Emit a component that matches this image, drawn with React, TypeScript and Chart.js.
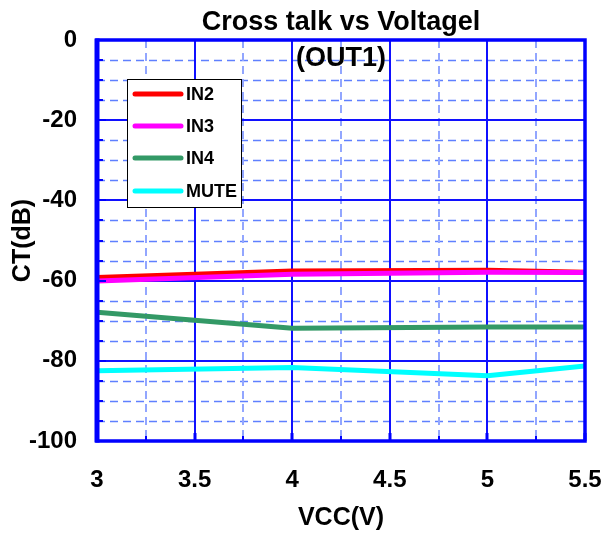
import React, { useEffect, useRef } from 'react';
import { Chart, registerables } from 'chart.js';

Chart.register(...registerables);

const vcc = [3, 4, 5, 5.5];
const in2 = [-59.2, -57.6, -57.4, -57.9];
const in3 = [-60.1, -58.4, -57.9, -58.0];
const in4 = [-67.9, -71.9, -71.6, -71.6];
const mute = [-82.5, -81.7, -83.7, -81.3];
const seriesNames = ['IN2', 'IN3', 'IN4', 'MUTE'];
const seriesColors = ['#ff0000', '#ff00ff', '#339966', '#00ffff'];
const titleLines = ['Cross talk vs Voltagel', '(OUT1)'];
const xLabel = 'VCC(V)';
const yLabel = 'CT(dB)';
const xMin = 3, xMax = 5.5, xMajor = 0.5, xMinor = 0.25;
const yMin = -100, yMax = 0, yMajor = 20, yMinor = 5;

const FONT = "'Liberation Sans', Arial, sans-serif";

const decorPlugin = {
  id: 'decor',
  beforeDatasetsDraw(chart: any) {
    const { ctx, chartArea: a, scales } = chart;
    const xs = scales.x, ys = scales.y;
    ctx.save();
    // minor dashed grid
    ctx.setLineDash([8, 5]);
    ctx.lineWidth = 1.5;
    ctx.strokeStyle = '#5f80ff';
    for (let v = yMin + yMinor; v < yMax; v += yMinor) {
      if (Math.abs(v % yMajor) < 1e-9) continue;
      const y = Math.round(ys.getPixelForValue(v)) + 0.5;
      ctx.beginPath(); ctx.moveTo(a.left, y); ctx.lineTo(a.right, y); ctx.stroke();
    }
    ctx.lineWidth = 2;
    ctx.strokeStyle = '#92a6ff';
    for (let v = xMin + xMinor; v < xMax - 1e-9; v += xMinor) {
      if (Math.abs((v / xMajor) - Math.round(v / xMajor)) < 1e-9) continue;
      const x = Math.round(xs.getPixelForValue(v));
      ctx.beginPath(); ctx.moveTo(x, a.top); ctx.lineTo(x, a.bottom); ctx.stroke();
    }
    // major solid grid
    ctx.setLineDash([]);
    ctx.lineWidth = 2;
    ctx.strokeStyle = '#1010ff';
    for (let v = yMin + yMajor; v < yMax; v += yMajor) {
      const y = Math.round(ys.getPixelForValue(v));
      ctx.beginPath(); ctx.moveTo(a.left, y); ctx.lineTo(a.right, y); ctx.stroke();
    }
    for (let v = xMin + xMajor; v < xMax - 1e-9; v += xMajor) {
      const x = Math.round(xs.getPixelForValue(v));
      ctx.beginPath(); ctx.moveTo(x, a.top); ctx.lineTo(x, a.bottom); ctx.stroke();
    }
    ctx.restore();
  },
  afterDatasetsDraw(chart: any) {
    const { ctx, chartArea: a, scales } = chart;
    const xs = scales.x, ys = scales.y;
    ctx.save();
    // tick marks
    ctx.strokeStyle = '#0000ff';
    ctx.lineWidth = 2;
    for (let v = yMin; v <= yMax + 1e-9; v += yMinor) {
      const y = Math.round(ys.getPixelForValue(v));
      const len = Math.abs(v % yMajor) < 1e-9 ? 9 : 6;
      ctx.beginPath(); ctx.moveTo(a.left, y); ctx.lineTo(a.left + len, y); ctx.stroke();
    }
    for (let v = xMin; v <= xMax + 1e-9; v += xMinor) {
      const x = Math.round(xs.getPixelForValue(v));
      const major = Math.abs((v / xMajor) - Math.round(v / xMajor)) < 1e-9;
      const len = major ? 8 : 5;
      ctx.lineWidth = major ? 3 : 2;
      ctx.beginPath(); ctx.moveTo(x, a.bottom); ctx.lineTo(x, a.bottom - len); ctx.stroke();
    }
    // border
    ctx.strokeStyle = '#0000ff';
    ctx.lineWidth = 3.5;
    ctx.strokeRect(a.left, a.top, a.right - a.left, a.bottom - a.top);
    ctx.lineWidth = 5;
    ctx.beginPath(); ctx.moveTo(a.left, a.top - 1.5); ctx.lineTo(a.left, a.bottom + 1.5); ctx.stroke();

    // legend
    const lx = 127.5, ly = 79.5, lw = 114, lh = 128;
    ctx.fillStyle = '#ffffff';
    ctx.fillRect(lx, ly, lw, lh);
    ctx.strokeStyle = '#000000';
    ctx.lineWidth = 1;
    ctx.strokeRect(lx, ly, lw, lh);
    const rows = [94, 126, 158, 191];
    chart.data.datasets.forEach((ds: any, i: number) => {
      const y = rows[i];
      ctx.strokeStyle = ds.borderColor;
      ctx.lineWidth = 5;
      ctx.lineCap = 'round';
      ctx.beginPath(); ctx.moveTo(135, y); ctx.lineTo(181, y); ctx.stroke();
      ctx.fillStyle = '#000000';
      ctx.font = `bold 18px ${FONT}`;
      ctx.textAlign = 'left';
      ctx.textBaseline = 'middle';
      ctx.fillText(ds.label, 186, y + 1);
    });

    // title
    ctx.fillStyle = '#000000';
    ctx.font = `bold 27px ${FONT}`;
    ctx.textAlign = 'center';
    ctx.textBaseline = 'middle';
    const cx = (a.left + a.right) / 2;
    ctx.fillText(titleLines[0], cx, 23);
    ctx.fillText(titleLines[1], cx, 59);
    ctx.restore();
  },
};

export default function App() {
  const ref = useRef<HTMLCanvasElement | null>(null);
  useEffect(() => {
    if (!ref.current) return;
    const mk = (label: string, data: number[], color: string, order: number) => ({
      label,
      data: vcc.map((x, i) => ({ x, y: data[i] })),
      borderColor: color,
      backgroundColor: color,
      borderWidth: 5,
      pointRadius: 0,
      tension: 0,
      order,
    });
    const chart = new Chart(ref.current, {
      type: 'line',
      data: {
        datasets: [
          mk(seriesNames[0], in2, seriesColors[0], 4),
          mk(seriesNames[1], in3, seriesColors[1], 3),
          mk(seriesNames[2], in4, seriesColors[2], 2),
          mk(seriesNames[3], mute, seriesColors[3], 1),
        ],
      },
      options: {
        animation: false,
        responsive: false,
        layout: { padding: { top: 40, right: 21, left: 0, bottom: 0 } },
        plugins: { legend: { display: false }, title: { display: false }, tooltip: { enabled: false } },
        scales: {
          x: {
            type: 'linear',
            min: xMin,
            max: xMax,
            grid: { display: false, drawTicks: false },
            border: { display: false },
            ticks: {
              stepSize: xMajor,
              color: '#000000',
              font: { family: FONT, size: 24, weight: 'bold' },
              padding: 25,
              maxRotation: 0,
              autoSkip: false,
              callback: (v: any) => String(Number(v)),
            },
            title: {
              display: true,
              text: xLabel,
              color: '#000000',
              font: { family: FONT, size: 25, weight: 'bold' },
              padding: { top: 0, bottom: 0 },
            },
            afterFit: (s: any) => { s.height = 92; s.paddingLeft = 0; s.paddingRight = 0; },
          },
          y: {
            type: 'linear',
            min: yMin,
            max: yMax,
            grid: { display: false, drawTicks: false },
            border: { display: false },
            ticks: {
              stepSize: yMajor,
              color: '#000000',
              font: { family: FONT, size: 24, weight: 'bold' },
              padding: 20,
            },
            title: {
              display: true,
              text: yLabel,
              color: '#000000',
              font: { family: FONT, size: 25, weight: 'bold' },
              padding: { top: 8, bottom: 0 },
            },
            afterFit: (s: any) => { s.width = 97; s.paddingTop = 0; s.paddingBottom = 0; },
          },
        },
      },
      plugins: [decorPlugin],
    } as any);
    return () => chart.destroy();
  }, []);
  return (
    <canvas
      ref={ref}
      width={606}
      height={533}
      style={{ position: 'absolute', left: 0, top: 0, display: 'block', width: 606, height: 533 }}
    />
  );
}
